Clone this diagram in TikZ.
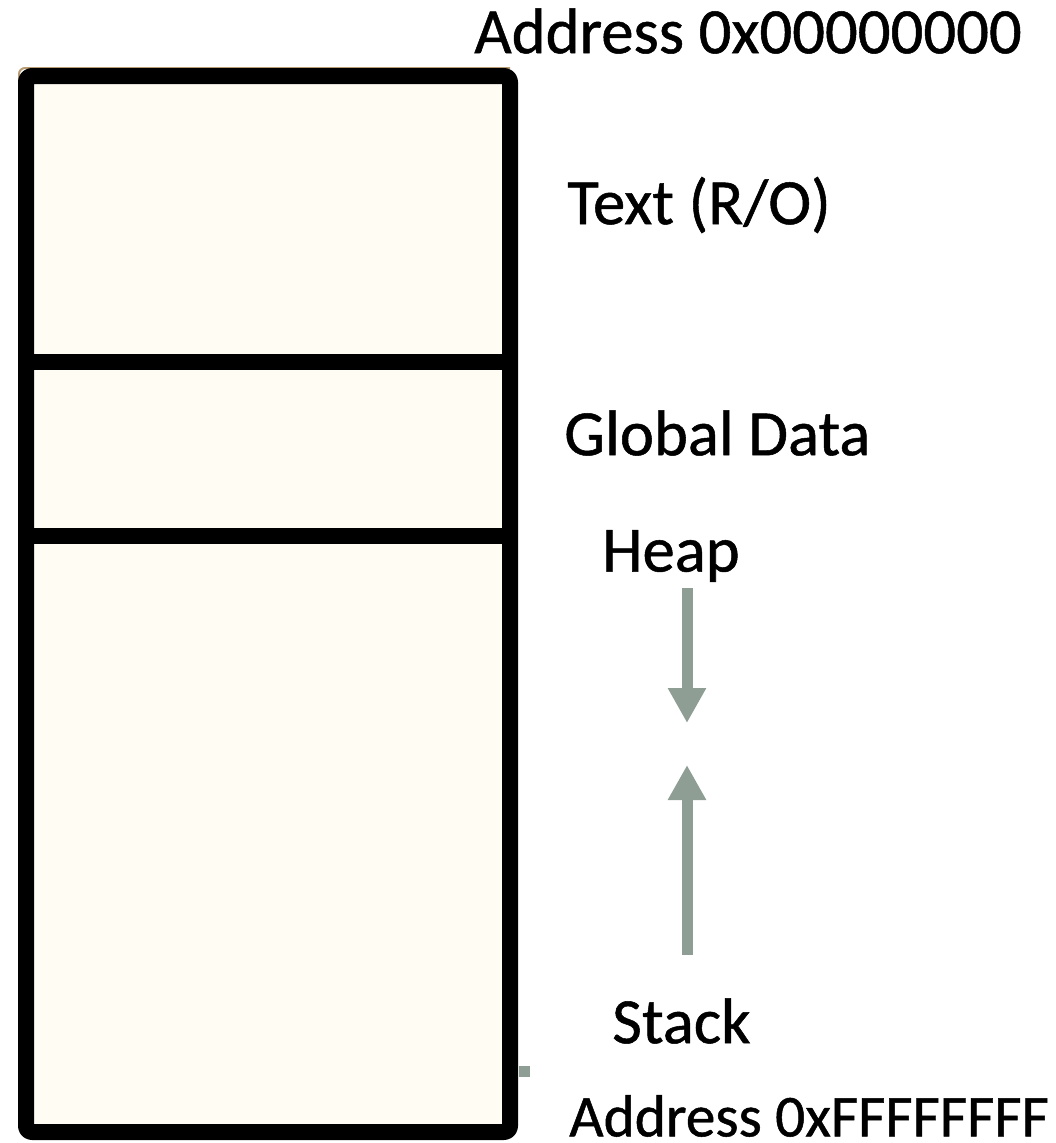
\documentclass[tikz,border=0pt]{standalone}
\usepackage{fontspec}
\setmainfont[FakeBold=0.8]{Carlito}
\usetikzlibrary{arrows.meta}
\definecolor{cream}{HTML}{FFFDF3}
\definecolor{growth}{HTML}{8E9E94}
\definecolor{tan}{HTML}{B89C74}
\tikzset{
  seg/.style={line width=16*0.75pt, line join=round},
  lbl/.style={anchor=west, inner sep=0pt, font=\fontsize{48.5}{52}\selectfont},
  growarrow/.style={growth, line width=11*0.75pt,
    -{Triangle[width=36*0.75pt, length=35*0.75pt]}}
}
\begin{document}
\begin{tikzpicture}[x=0.75pt, y=-0.75pt]
\useasboundingbox (0,0) rectangle (1056,1143);
% memory block and its segments
\draw[tan, line width=2*0.75pt, rounded corners=6*0.75pt] (19,80) -- (19,68) -- (510,68);
\draw[seg, fill=cream, rounded corners=6*0.75pt] (26,76) rectangle (510,1132);
\draw[seg] (26,362) -- (510,362);
\draw[seg] (26,536) -- (510,536);
\fill[growth] (519,1066) rectangle (530,1077);
% labels
\node[lbl] (top) at (474,31) {Address 0x00000000};
\node[lbl] (text) at (567,205) {Text (R/O)};
\node[lbl] (data) at (564,433) {Global Data};
\node[lbl] (heap) at (602,556) {Heap};
\node[lbl] (stack) at (612,1021) {Stack};
\node[lbl, font=\fontsize{44.5}{48}\selectfont] (bottom) at (569,1116) {Address 0xFFFFFFFF};
% growth directions
\coordinate (hs) at (687,588);
\coordinate (he) at (687,723);
\coordinate (ss) at (687,955);
\coordinate (se) at (687,765);
\draw[growarrow] (hs) -- (he);
\draw[growarrow] (ss) -- (se);
\end{tikzpicture}
\end{document}
